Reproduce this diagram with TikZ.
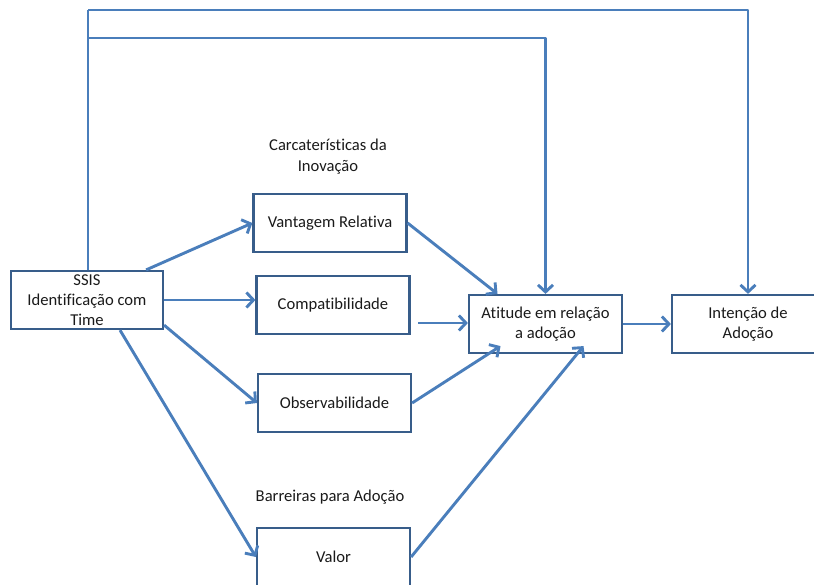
\documentclass[tikz,border=0pt]{standalone}
\usepackage{fontspec}
\setmainfont{Carlito}[Ligatures={NoCommon}]
\usetikzlibrary{arrows.meta}
\definecolor{linkblue}{HTML}{4A7EBB}
\definecolor{boxblue}{HTML}{385D8A}
\definecolor{txt}{HTML}{1A1A1A}
\begin{document}
\begin{tikzpicture}[x=1pt,y=-1pt,
  box/.style={draw=boxblue,line width=2.2pt,fill=white,minimum width=153pt,minimum height=58pt,inner sep=1pt,align=center,text=txt,font=\fontsize{16.6}{20}\selectfont},
  lbl/.style={align=center,text=txt,font=\fontsize{16.6}{21}\selectfont},
  link/.style={draw=linkblue,line width=2.9pt,-{Straight Barb[length=7pt,width=15pt,line width=2.9pt]}},
  plain/.style={draw=linkblue,line width=2.9pt}]
\useasboundingbox (0,0) rectangle (814,585);
\node[box,minimum width=152pt] (ssis) at (87,300) {SSIS\\Identificação com\\Time};
\node[box] (vant) at (330,223) {Vantagem Relativa};
\node[box] (compat) at (333,305) {Compatibilidade};
\node[box] (obs) at (334.5,403) {Observabilidade};
\node[box] (valor) at (333.5,557) {Valor};
\node[box] (atit) at (545.5,324) {Atitude em relação\\a adoção};
\node[box,minimum width=152pt] (inten) at (748,324) {Intenção de\\Adoção};
\node[lbl] (carac) at (328,157) {Carcaterísticas da\\Inovação};
\node[lbl] (barr) at (330,497) {Barreiras para Adoção};
\coordinate (top1) at (88,10);
\coordinate (top2) at (88,38);
\coordinate (ssistop) at (88,270);
\coordinate (compatend) at (418,323);
\draw[plain] (ssistop) -- (top1);
\draw[link,line join=round] (top1) -| (inten.north);
\draw[link,line join=round] (top2) -| (atit.north);
\draw[link] (ssis.north east) ++(-18,0) -- (vant.west);
\draw[link] (ssis.east) -- (ssis.east -| compat.west);
\draw[link] (ssis.south east) ++(0,-5) -- (obs.west);
\draw[link] (ssis.south) ++(33,0) -- (valor.west);
\draw[link] (vant.east) -- ([xshift=-48pt]atit.north);
\draw[link] (compatend) -- (compatend -| atit.west);
\draw[link] (obs.east) -- ([xshift=-45pt,yshift=8pt]atit.south);
\draw[link] (valor.east) -- ([xshift=38pt,yshift=8pt]atit.south);
\draw[link] (atit.east) -- (inten.west);
\end{tikzpicture}
\end{document}
